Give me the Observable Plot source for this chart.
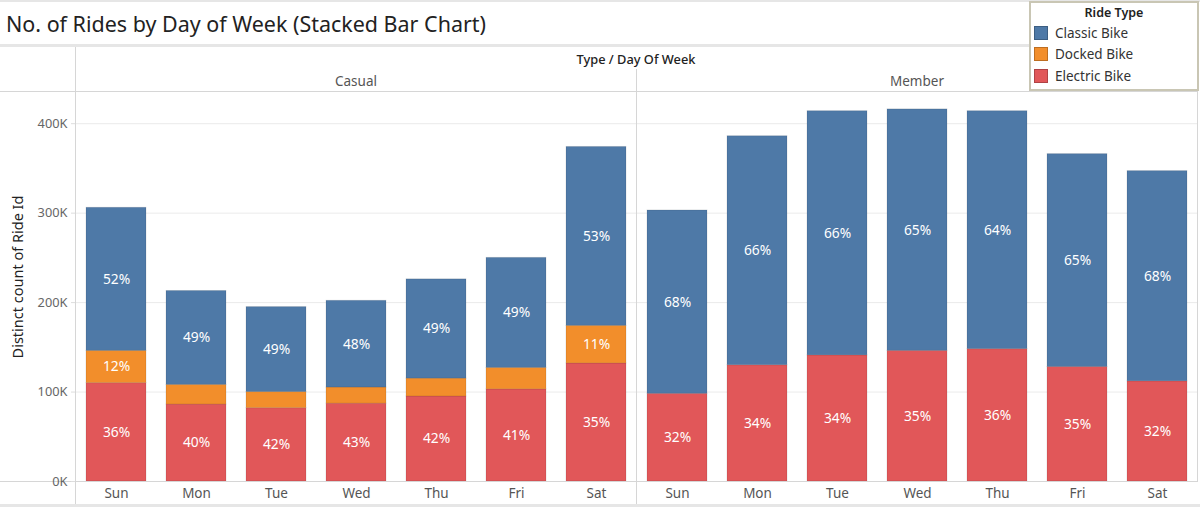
<!DOCTYPE html>
<html>
<head>
<meta charset="utf-8">
<script src="https://cdn.jsdelivr.net/npm/d3@7"></script>
<script src="https://cdn.jsdelivr.net/npm/@observablehq/plot@0.6"></script>
<style>
  html, body { margin: 0; padding: 0; background: #fff; overflow: hidden; }
  #root { position: relative; width: 1200px; height: 507px; font-family: "Noto Sans", sans-serif; }
  #deco { position: absolute; left: 0; top: 0; }
  #chart { position: absolute; left: 0; top: 46px; }
  #legend { position: absolute; left: 1029px; top: 1px; width: 166px; height: 86px; border: 2px solid #c9c6b4; background: #fff; }
  #legend .ttl { text-align: center; font-size: 12.5px; font-weight: 600; color: #222; margin-top: 0px; height: 19px; line-height: 19px; }
  #legend .item { display: flex; align-items: center; height: 21.5px; font-size: 13.5px; color: #333; }
  #legend .sw { width: 14px; height: 14px; margin: 0 7px 0 3px; box-sizing: border-box; border: 1px solid rgba(0,0,0,0.22); }
</style>
</head>
<body>
<div id="root">
  <svg id="deco" width="1200" height="507"></svg>
  <div id="chart"></div>
  <div id="legend"></div>
</div>
<script>
// ---- data (thousands of rides) ----
const riderTypes = ["Casual", "Member"];
const days = ["Sun", "Mon", "Tue", "Wed", "Thu", "Fri", "Sat"];
const stackOrder = ["Electric Bike", "Docked Bike", "Classic Bike"];
const legendOrder = ["Classic Bike", "Docked Bike", "Electric Bike"];
const legendColors = ["#4e79a7", "#f28e2b", "#e15759"];

const casualElectric = [110, 86, 82, 87, 95, 103, 132];
const casualDocked   = [36, 22, 18, 18, 20, 24, 42];
const casualClassic  = [160, 105, 95, 97, 111, 123, 200];

const memberElectric = [98, 130, 141, 146, 148, 128, 112];
const memberDocked   = [0, 0, 0, 0, 0, 0, 0];
const memberClassic  = [205, 256, 273, 270, 266, 238, 235];

const yTicks = [0, 100000, 200000, 300000, 400000];

const series = {
  Casual: {"Electric Bike": casualElectric, "Docked Bike": casualDocked, "Classic Bike": casualClassic},
  Member: {"Electric Bike": memberElectric, "Docked Bike": memberDocked, "Classic Bike": memberClassic}
};

const rows = [];
for (const r of riderTypes) {
  days.forEach((d, i) => {
    const total = stackOrder.reduce((s, t) => s + series[r][t][i], 0);
    for (const t of stackOrder) {
      const v = series[r][t][i];
      rows.push({rider: r, day: d, type: t, value: v * 1000, pct: Math.round(v / total * 100)});
    }
  });
}

const chart = Plot.plot({
  width: 1200,
  height: 461,
  marginTop: 45,
  marginBottom: 26,
  marginLeft: 75,
  marginRight: 3,
  style: {fontFamily: "'Noto Sans', sans-serif", fontSize: "13px", background: "transparent", overflow: "visible"},
  fx: {domain: riderTypes, padding: 0, label: null},
  x: {domain: days, paddingInner: 0.25, paddingOuter: 0.1, label: null},
  y: {domain: [0, 436000], label: null},
  color: {domain: legendOrder, range: legendColors},
  marks: [
    Plot.gridY({ticks: yTicks, stroke: "#ebebeb", strokeOpacity: 1}),
    Plot.barY(rows, {fx: "rider", x: "day", y: "value", fill: "type", z: "type",
      stroke: "#000", strokeOpacity: 0.1, strokeWidth: 1, inset: 0}),
    Plot.text(rows, Plot.stackY({fx: "rider", x: "day", y: "value", z: "type",
      text: d => d.value >= 30000 ? d.pct + "%" : "",
      fill: "white", fontSize: 13.8})),
    Plot.frame({stroke: "#d6d6d6"}),
    Plot.axisY({ticks: yTicks, tickFormat: d => d / 1000 + "K", tickSize: 4, tickPadding: 4,
      label: null, color: "#666", stroke: "#ddd", fontSize: 12.8}),
    Plot.axisX({tickSize: 0, tickPadding: 7, label: null, color: "#555", fontSize: 13.5}),
    Plot.axisFx({anchor: "top", tickSize: 0, tickPadding: 6, label: null, color: "#555", fontSize: 13.5})
  ]
});
document.getElementById("chart").appendChild(chart);

// ---- decoration, title, header, y label ----
const deco = d3.select("#deco");
const g = "#e6e6e6";
deco.append("rect").attr("x", 0).attr("y", 0).attr("width", 1200).attr("height", 2).attr("fill", g);
deco.append("rect").attr("x", 0).attr("y", 44).attr("width", 1030).attr("height", 3).attr("fill", g);
deco.append("rect").attr("x", 0).attr("y", 504).attr("width", 1200).attr("height", 3).attr("fill", g);
const ln = "#d6d6d6";
deco.append("line").attr("x1", 0).attr("x2", 75).attr("y1", 91.5).attr("y2", 91.5).attr("stroke", ln);
deco.append("line").attr("x1", 0).attr("x2", 75).attr("y1", 481.5).attr("y2", 481.5).attr("stroke", ln);
deco.append("line").attr("x1", 75.5).attr("x2", 75.5).attr("y1", 47).attr("y2", 504).attr("stroke", ln);
deco.append("line").attr("x1", 636.5).attr("x2", 636.5).attr("y1", 69).attr("y2", 504).attr("stroke", ln);

deco.append("text").attr("x", 6).attr("y", 31.5)
  .attr("font-size", 22).attr("fill", "#222")
  .attr("textLength", 480).attr("lengthAdjust", "spacingAndGlyphs")
  .text("No. of Rides by Day of Week (Stacked Bar Chart)");
deco.append("text").attr("x", 636).attr("y", 64).attr("text-anchor", "middle")
  .attr("font-size", 12.8).attr("fill", "#222").attr("font-weight", 500)
  .text("Type / Day Of Week");
deco.append("text").attr("transform", "translate(23,277) rotate(-90)").attr("text-anchor", "middle")
  .attr("font-size", 14.5).attr("fill", "#222")
  .text("Distinct count of Ride Id");

// ---- legend ----
const lg = document.getElementById("legend");
lg.innerHTML = '<div class="ttl">Ride Type</div>' + legendOrder.map((t, i) =>
  `<div class="item"><span class="sw" style="background:${legendColors[i]}"></span>${t}</div>`).join("");
</script>
</body>
</html>
